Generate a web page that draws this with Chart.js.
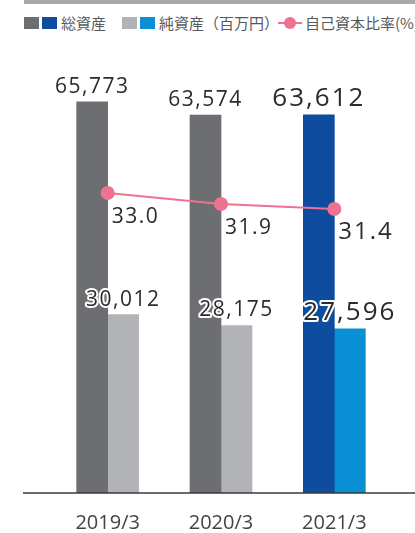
<!DOCTYPE html>
<html>
<head>
<meta charset="utf-8">
<script src="https://cdn.jsdelivr.net/npm/chart.js@4/dist/chart.umd.min.js"></script>
<style>
  body { margin: 0; background: #fff; }
  #wrap { position: relative; width: 415px; height: 533px; overflow: hidden; }
  #topbar { position: absolute; left: 24px; top: 0; width: 391px; height: 4px; background: #a7a8ab; }
  .sw { position: absolute; top: 17px; width: 15px; height: 12px; }
  .lg { position: absolute; top: 12px; font: 15px "Noto Sans CJK JP"; color: #58595b; white-space: nowrap; line-height: 22px; }
  #lineKey { position: absolute; left: 278px; top: 22px; width: 24px; height: 2px; background: #ef7391; }
  #lineDot { position: absolute; left: 284px; top: 17px; width: 12px; height: 12px; border-radius: 50%; background: #ef7391; }
  canvas { position: absolute; left: 0; top: 0; }
</style>
</head>
<body>
<div id="wrap">
  <div id="topbar"></div>
  <div class="sw" style="left:24px;background:#6d6e71"></div>
  <div class="sw" style="left:42px;background:#0d4c9e"></div>
  <div class="lg" style="left:61px">総資産</div>
  <div class="sw" style="left:122px;background:#b1b3b6"></div>
  <div class="sw" style="left:140px;background:#0a8fd4"></div>
  <div class="lg" style="left:159px">純資産（百万円）</div>
  <div id="lineKey"></div><div id="lineDot"></div>
  <div class="lg" style="left:305px">自己資本比率(%)</div>
  <canvas id="chart" width="415" height="533"></canvas>
</div>
<script>
const years = ["2019/3", "2020/3", "2021/3"];
const totalAssets = [65773, 63574, 63612];
const netAssets = [30012, 28175, 27596];
const equityRatio = [33.0, 31.9, 31.4];

const totalColors = ["#6d6e71", "#6d6e71", "#0d4c9e"];
const netColors = ["#b1b3b6", "#b1b3b6", "#0a8fd4"];
const lineColor = "#ef7391";

// labels drawn on top of the marks
const valueLabels = {
  id: "valueLabels",
  afterDatasetsDraw(chart) {
    const ctx = chart.ctx;
    const area = chart.chartArea;
    ctx.save();

    // base line
    ctx.strokeStyle = "#3a3a3a";
    ctx.lineWidth = 1.5;
    ctx.beginPath();
    ctx.moveTo(23, area.bottom);
    ctx.lineTo(415, area.bottom);
    ctx.stroke();

    ctx.fillStyle = "#2b2b2b";
    ctx.textBaseline = "alphabetic";

    const setFont = (size) => {
      ctx.font = size + 'px "Open Sans"';
      ctx.letterSpacing = size > 22 ? "2px" : "1.5px";
    };

    // 総資産
    chart.getDatasetMeta(0).data.forEach((bar, i) => {
      setFont(i === 2 ? 26 : 21);
      ctx.textAlign = "center";
      ctx.fillText(totalAssets[i].toLocaleString("en-US"), bar.x, bar.y - 9);
    });

    // 純資産 (white halo)
    chart.getDatasetMeta(1).data.forEach((bar, i) => {
      setFont(i === 2 ? 26 : 21);
      ctx.textAlign = "center";
      const t = netAssets[i].toLocaleString("en-US");
      ctx.strokeStyle = "#fff";
      ctx.lineWidth = 4;
      ctx.lineJoin = "round";
      ctx.strokeText(t, bar.x, bar.y - 9);
      ctx.fillText(t, bar.x, bar.y - 9);
    });

    // 自己資本比率
    chart.getDatasetMeta(2).data.forEach((pt, i) => {
      setFont(i === 2 ? 24 : 21);
      ctx.textAlign = "left";
      ctx.fillText(equityRatio[i].toFixed(1), pt.x + 4, pt.y + 30);
    });

    ctx.restore();
  }
};

new Chart(document.getElementById("chart").getContext("2d"), {
  data: {
    labels: years,
    datasets: [
      {
        type: "bar",
        label: "総資産",
        data: totalAssets,
        backgroundColor: totalColors,
        barThickness: 31,
        yAxisID: "y",
        order: 2
      },
      {
        type: "bar",
        label: "純資産（百万円）",
        data: netAssets,
        backgroundColor: netColors,
        barThickness: 31,
        yAxisID: "y",
        order: 2
      },
      {
        type: "line",
        label: "自己資本比率(%)",
        data: equityRatio,
        borderColor: lineColor,
        backgroundColor: lineColor,
        borderWidth: 2,
        pointRadius: 7,
        pointBackgroundColor: lineColor,
        pointBorderWidth: 0,
        yAxisID: "y1",
        order: 1
      }
    ]
  },
  options: {
    responsive: false,
    animation: false,
    layout: { padding: { left: 51, right: 24, top: 53, bottom: 0 } },
    plugins: {
      legend: { display: false },
      tooltip: { enabled: false }
    },
    scales: {
      x: {
        grid: { display: false, drawTicks: false },
        border: { display: false },
        ticks: { color: "#444", font: { family: "Open Sans", size: 20 }, padding: 18 },
        afterFit: (s) => { s.height = 40; }
      },
      y: { display: false, min: 0, max: 74000 },
      y1: { display: false, min: 3, max: 47 }
    }
  },
  plugins: [valueLabels]
});
</script>
</body>
</html>
